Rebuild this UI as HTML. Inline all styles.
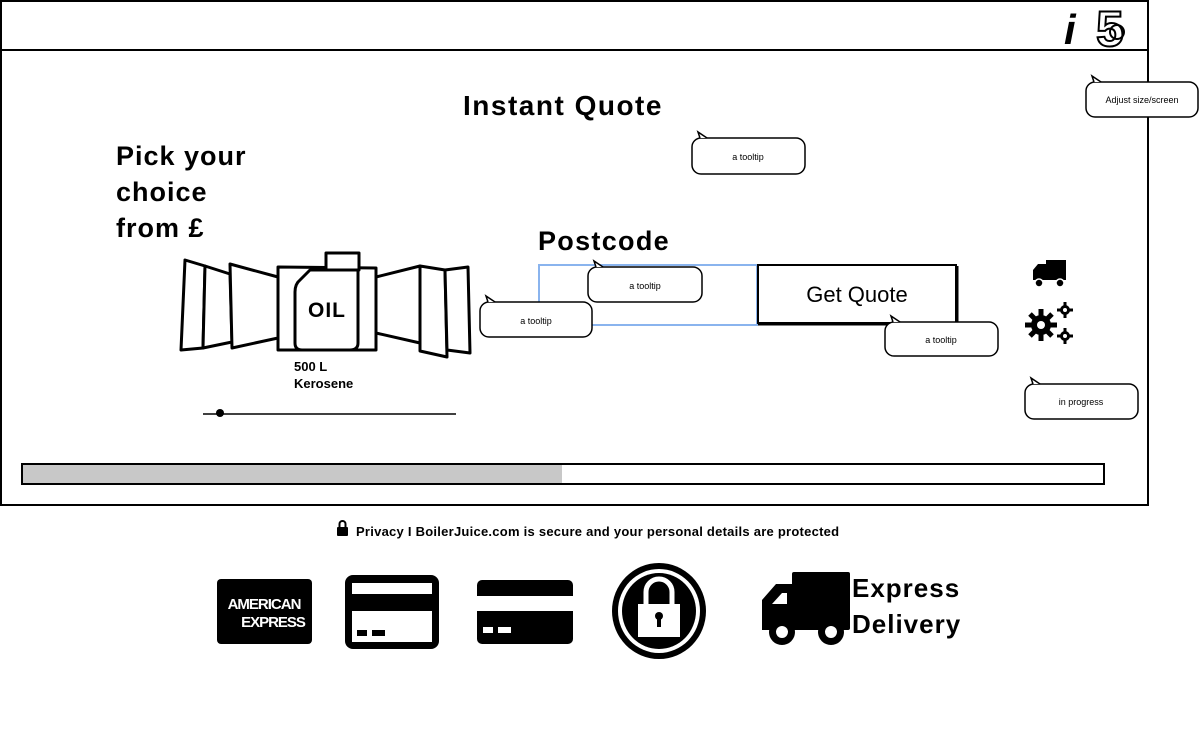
<!DOCTYPE html>
<html><head><meta charset="utf-8"><style>
html,body{margin:0;padding:0;background:#fff;width:1200px;height:735px;overflow:hidden}
svg{display:block}
text{font-family:"Liberation Sans",sans-serif}
</style></head><body>
<svg width="1200" height="735" viewBox="0 0 1200 735" xmlns="http://www.w3.org/2000/svg">
<rect x="1" y="1" width="1147" height="49" fill="#fff" stroke="#000" stroke-width="2"/>
<rect x="1" y="50" width="1147" height="455" fill="#fff" stroke="#000" stroke-width="2"/>
<text x="1064" y="44" font-family="Liberation Serif,serif" font-style="italic" font-weight="bold" font-size="42">i</text>
<text x="1096" y="46" font-size="50" font-weight="bold" fill="none" stroke="#000" stroke-width="2">5</text>
<circle cx="1117" cy="32" r="7" fill="none" stroke="#000" stroke-width="2"/>

<text x="563" y="115" font-size="28" font-weight="bold" text-anchor="middle" letter-spacing="1.5">Instant Quote</text>
<text x="116" y="165" font-size="27" font-weight="bold" letter-spacing="1">Pick your</text>
<text x="116" y="201" font-size="27" font-weight="bold" letter-spacing="1">choice</text>
<text x="116" y="237" font-size="27" font-weight="bold" letter-spacing="1">from £</text>
<text x="538" y="250" font-size="27" font-weight="bold" letter-spacing="1.3">Postcode</text>

<g fill="#fff" stroke="#000" stroke-width="3" stroke-linejoin="round">
<polygon points="185,260 205,266 203,348 181,350"/>
<polygon points="205,266 230,274 232,342 203,348"/>
<polygon points="230,264 278,277 278,338 232,348"/>
<polygon points="278,267 376,268 376,350 278,350"/>
<polygon points="376,277 420,266 420,343 376,333"/>
<polygon points="420,266 445,270 447,357 420,351"/>
<polygon points="445,270 468,267 470,353 447,350"/>
<rect x="326" y="253" width="33" height="17"/>
<path d="M310,270 L358,270 L358,343 Q358,350 350,350 L302,350 Q295,350 295,343 L295,292 Q295,284 300,280 Z"/>
</g>
<text x="327" y="317" font-size="21" font-weight="bold" text-anchor="middle" letter-spacing="1">OIL</text>
<text x="294" y="371" font-size="13" font-weight="bold">500 L</text>
<text x="294" y="388" font-size="13" font-weight="bold">Kerosene</text>
<line x1="203" y1="414" x2="456" y2="414" stroke="#000" stroke-width="1.5"/>
<circle cx="220" cy="413" r="4" fill="#000"/>

<rect x="539" y="265" width="218" height="60" fill="#fff" stroke="#8ab4ee" stroke-width="2"/>
<rect x="758" y="265" width="198" height="58" fill="#fff" stroke="#000" stroke-width="2"/>
<line x1="957" y1="266" x2="957" y2="324" stroke="#000" stroke-width="3"/>
<line x1="758" y1="324" x2="957" y2="324" stroke="#000" stroke-width="3"/>
<text x="857" y="302" font-size="22" text-anchor="middle">Get Quote</text>

<g fill="#fff" stroke="#000" stroke-width="1.5">
<g transform="translate(1086,82)"><rect width="112" height="35" rx="9"/><path d="M8,0 L6,-6 L15,0" /></g>
<g transform="translate(692,138)"><rect width="113" height="36" rx="9"/><path d="M8,0 L6,-6 L15,0"/></g>
<g transform="translate(480,302)"><rect width="112" height="35" rx="9"/><path d="M8,0 L6,-6 L15,0"/></g>
<g transform="translate(588,267)"><rect width="114" height="35" rx="9"/><path d="M8,0 L6,-6 L15,0"/></g>
<g transform="translate(885,322)"><rect width="113" height="34" rx="9"/><path d="M8,0 L6,-6 L15,0"/></g>
<g transform="translate(1025,384)"><rect width="113" height="35" rx="9"/><path d="M8,0 L6,-6 L15,0"/></g>
</g>
<g font-size="9" text-anchor="middle">
<text x="1142" y="103">Adjust size/screen</text>
<text x="748" y="160">a tooltip</text>
<text x="536" y="324">a tooltip</text>
<text x="645" y="289">a tooltip</text>
<text x="941" y="343">a tooltip</text>
<text x="1081" y="405">in progress</text>
</g>

<g fill="#000">
<rect x="1046" y="260" width="20" height="20"/>
<path d="M1033,280 L1033,270 L1038,264 L1046,264 L1046,280 Z"/>
<circle cx="1039" cy="283" r="4" stroke="#fff" stroke-width="1.5"/>
<circle cx="1060" cy="283" r="4" stroke="#fff" stroke-width="1.5"/>
</g>
<g fill="#000">
<circle cx="1041" cy="325" r="10"/>
<g stroke="#000" stroke-width="5">
<line x1="1041" y1="309" x2="1041" y2="341"/><line x1="1025" y1="325" x2="1057" y2="325"/>
<line x1="1030" y1="314" x2="1052" y2="336"/><line x1="1052" y1="314" x2="1030" y2="336"/>
</g>
<circle cx="1041" cy="325" r="4" fill="#fff"/>
<g stroke="#000" stroke-width="3">
<line x1="1065" y1="302" x2="1065" y2="318"/><line x1="1057" y1="310" x2="1073" y2="310"/>
<line x1="1065" y1="328" x2="1065" y2="344"/><line x1="1057" y1="336" x2="1073" y2="336"/>
</g>
<circle cx="1065" cy="310" r="5"/><circle cx="1065" cy="336" r="5"/>
<circle cx="1065" cy="310" r="2" fill="#fff"/><circle cx="1065" cy="336" r="2" fill="#fff"/>
</g>

<rect x="22" y="464" width="1082" height="20" fill="#fff" stroke="#000" stroke-width="2"/>
<rect x="23" y="465" width="539" height="18" fill="#c8c8c8"/>

<g fill="#000">
<rect x="337" y="527" width="11" height="9" rx="1"/>
<path d="M339.5,527 L339.5,524 A3,3 0 0 1 345.5,524 L345.5,527" fill="none" stroke="#000" stroke-width="2"/>
</g>
<text x="356" y="536" font-size="13" font-weight="bold" letter-spacing="0.25">Privacy I BoilerJuice.com is secure and your personal details are protected</text>

<rect x="217" y="579" width="95" height="65" rx="4" fill="#000"/>
<text x="264" y="609" font-size="15" font-weight="bold" fill="#fff" text-anchor="middle" letter-spacing="-1">AMERICAN</text>
<text x="273" y="627" font-size="15" font-weight="bold" fill="#fff" text-anchor="middle" letter-spacing="-1">EXPRESS</text>

<rect x="345" y="575" width="94" height="74" rx="8" fill="#000"/>
<rect x="352" y="583" width="80" height="11" fill="#fff"/>
<rect x="352" y="611" width="80" height="31" fill="#fff"/>
<rect x="357" y="630" width="10" height="6" fill="#000"/>
<rect x="372" y="630" width="13" height="6" fill="#000"/>

<rect x="477" y="580" width="96" height="64" rx="5" fill="#000"/>
<rect x="477" y="596" width="96" height="15" fill="#fff"/>
<rect x="483" y="627" width="10" height="6" fill="#fff"/>
<rect x="498" y="627" width="13" height="6" fill="#fff"/>

<ellipse cx="659" cy="611" rx="47" ry="48" fill="#000"/>
<ellipse cx="659" cy="611" rx="41" ry="42" fill="#fff"/>
<ellipse cx="659" cy="611" rx="37" ry="38" fill="#000"/>
<path d="M646,604 L646,592 A13,13 0 0 1 672,592 L672,604" fill="none" stroke="#fff" stroke-width="5"/>
<rect x="638" y="604" width="42" height="33" fill="#fff"/>
<circle cx="659" cy="616" r="4" fill="#000"/>
<rect x="657" y="617" width="4" height="10" fill="#000"/>

<g fill="#000">
<rect x="792" y="572" width="58" height="58" rx="2"/>
<path d="M762,628 L762,600 L776,584 L793,584 L793,630 L762,630 Z"/>
<circle cx="782" cy="632" r="13"/><circle cx="831" cy="632" r="13"/>
<circle cx="782" cy="632" r="6" fill="#fff"/><circle cx="831" cy="632" r="6" fill="#fff"/>
</g>
<polygon points="772,604 782,593 787,593 787,604" fill="#fff"/>
<text x="852" y="597" font-size="26" font-weight="bold" letter-spacing="1">Express</text>
<text x="852" y="633" font-size="26" font-weight="bold" letter-spacing="1">Delivery</text>
</svg>
</body></html>
